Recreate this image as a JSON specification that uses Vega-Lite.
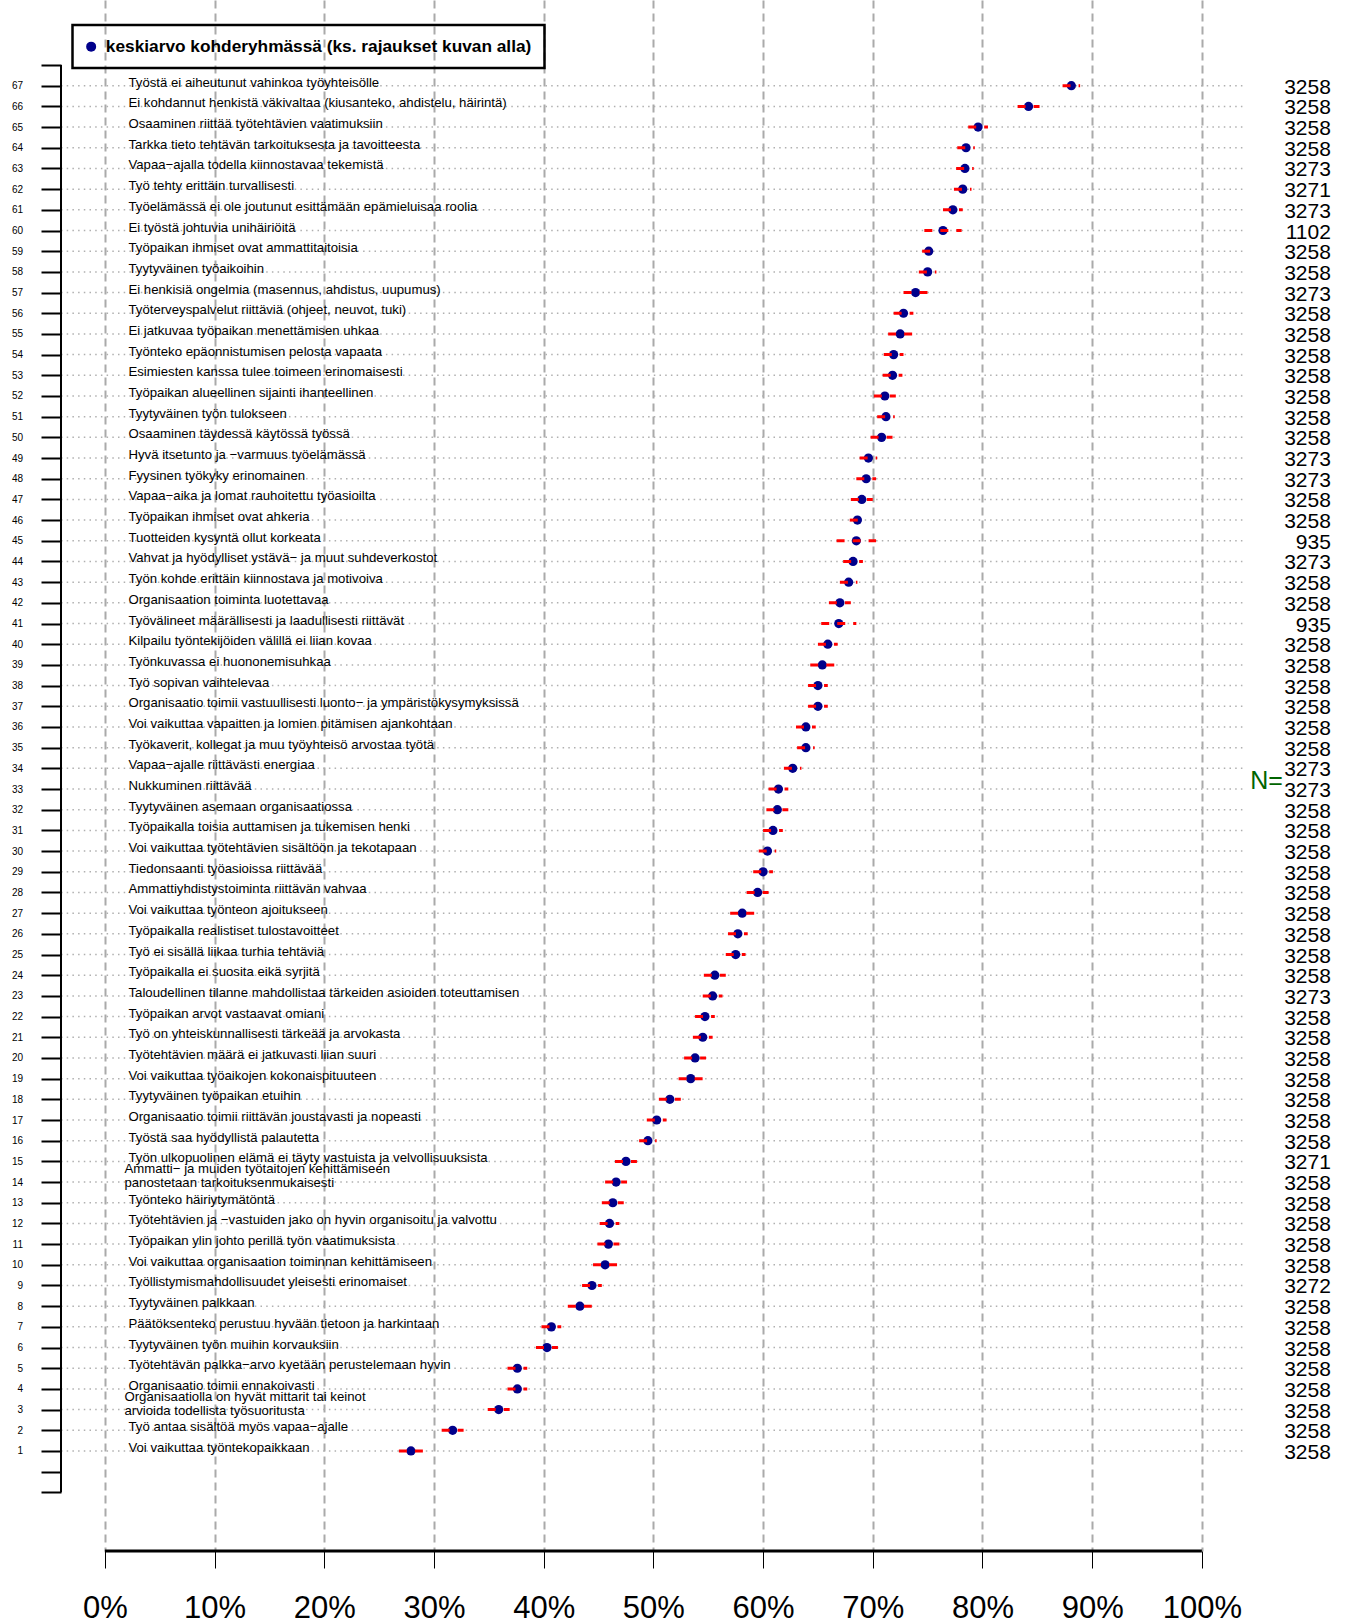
{
  "$schema": "https://vega.github.io/schema/vega-lite/v6.json",
  "width": 1287,
  "height": 1551,
  "autosize": {"type": "none"},
  "padding": {"left": 61, "top": 0, "right": 0, "bottom": 72},
  "background": "white",
  "config": {
    "view": {"stroke": null},
    "font": "Liberation Sans",
    "text": {"font": "Liberation Sans"},
    "legend": {"strokeWidth": 2.5}
  },
  "data": {
    "values": [
      {"r": 67, "label": "Työstä ei aiheutunut vahinkoa työyhteisölle", "m": 88.1, "lo": 87.3, "hi": 88.9, "n": 3258},
      {"r": 66, "label": "Ei kohdannut henkistä väkivaltaa (kiusanteko, ahdistelu, häirintä)", "m": 84.2, "lo": 83.2, "hi": 85.2, "n": 3258},
      {"r": 65, "label": "Osaaminen riittää työtehtävien vaatimuksiin", "m": 79.6, "lo": 78.7, "hi": 80.5, "n": 3258},
      {"r": 64, "label": "Tarkka tieto tehtävän tarkoituksesta ja tavoitteesta", "m": 78.5, "lo": 77.7, "hi": 79.3, "n": 3258},
      {"r": 63, "label": "Vapaa−ajalla todella kiinnostavaa tekemistä", "m": 78.4, "lo": 77.6, "hi": 79.2, "n": 3273},
      {"r": 62, "label": "Työ tehty erittäin turvallisesti", "m": 78.2, "lo": 77.4, "hi": 79.0, "n": 3271},
      {"r": 61, "label": "Työelämässä ei ole joutunut esittämään epämieluisaa roolia", "m": 77.3, "lo": 76.4, "hi": 78.2, "n": 3273},
      {"r": 60, "label": "Ei työstä johtuvia unihäiriöitä", "m": 76.4, "lo": 74.7, "hi": 78.1, "n": 1102},
      {"r": 59, "label": "Työpaikan ihmiset ovat ammattitaitoisia", "m": 75.1, "lo": 74.5, "hi": 75.7, "n": 3258},
      {"r": 58, "label": "Tyytyväinen työaikoihin", "m": 75.0, "lo": 74.2, "hi": 75.8, "n": 3258},
      {"r": 57, "label": "Ei henkisiä ongelmia (masennus, ahdistus, uupumus)", "m": 73.9, "lo": 72.8, "hi": 75.0, "n": 3273},
      {"r": 56, "label": "Työterveyspalvelut riittäviä (ohjeet, neuvot, tuki)", "m": 72.8, "lo": 71.9, "hi": 73.7, "n": 3258},
      {"r": 55, "label": "Ei jatkuvaa työpaikan menettämisen uhkaa", "m": 72.5, "lo": 71.4, "hi": 73.6, "n": 3258},
      {"r": 54, "label": "Työnteko epäonnistumisen pelosta vapaata", "m": 71.9, "lo": 71.0, "hi": 72.8, "n": 3258},
      {"r": 53, "label": "Esimiesten kanssa tulee toimeen erinomaisesti", "m": 71.8, "lo": 70.9, "hi": 72.7, "n": 3258},
      {"r": 52, "label": "Työpaikan alueellinen sijainti ihanteellinen", "m": 71.1, "lo": 70.1, "hi": 72.1, "n": 3258},
      {"r": 51, "label": "Tyytyväinen työn tulokseen", "m": 71.2, "lo": 70.4, "hi": 72.0, "n": 3258},
      {"r": 50, "label": "Osaaminen täydessä käytössä työssä", "m": 70.8, "lo": 69.8, "hi": 71.8, "n": 3258},
      {"r": 49, "label": "Hyvä itsetunto ja −varmuus työelämässä", "m": 69.6, "lo": 68.8, "hi": 70.4, "n": 3273},
      {"r": 48, "label": "Fyysinen työkyky erinomainen", "m": 69.4, "lo": 68.5, "hi": 70.3, "n": 3273},
      {"r": 47, "label": "Vapaa−aika ja lomat rauhoitettu työasioilta", "m": 69.0, "lo": 68.0, "hi": 70.0, "n": 3258},
      {"r": 46, "label": "Työpaikan ihmiset ovat ahkeria", "m": 68.6, "lo": 67.9, "hi": 69.3, "n": 3258},
      {"r": 45, "label": "Tuotteiden kysyntä ollut korkeata", "m": 68.5, "lo": 66.7, "hi": 70.3, "n": 935},
      {"r": 44, "label": "Vahvat ja hyödylliset ystävä− ja muut suhdeverkostot", "m": 68.2, "lo": 67.3, "hi": 69.1, "n": 3273},
      {"r": 43, "label": "Työn kohde erittäin kiinnostava ja motivoiva", "m": 67.8, "lo": 67.0, "hi": 68.6, "n": 3258},
      {"r": 42, "label": "Organisaation toiminta luotettavaa", "m": 67.0, "lo": 66.0, "hi": 68.0, "n": 3258},
      {"r": 41, "label": "Työvälineet määrällisesti ja laadullisesti riittävät", "m": 66.9, "lo": 65.3, "hi": 68.5, "n": 935},
      {"r": 40, "label": "Kilpailu työntekijöiden välillä ei liian kovaa", "m": 65.9, "lo": 65.0, "hi": 66.8, "n": 3258},
      {"r": 39, "label": "Työnkuvassa ei huononemisuhkaa", "m": 65.4, "lo": 64.3, "hi": 66.5, "n": 3258},
      {"r": 38, "label": "Työ sopivan vaihtelevaa", "m": 65.0, "lo": 64.1, "hi": 65.9, "n": 3258},
      {"r": 37, "label": "Organisaatio toimii vastuullisesti luonto− ja ympäristökysymyksissä", "m": 65.0, "lo": 64.1, "hi": 65.9, "n": 3258},
      {"r": 36, "label": "Voi vaikuttaa vapaitten ja lomien pitämisen ajankohtaan", "m": 63.9, "lo": 63.0, "hi": 64.8, "n": 3258},
      {"r": 35, "label": "Työkaverit, kollegat ja muu työyhteisö arvostaa työtä", "m": 63.9, "lo": 63.1, "hi": 64.7, "n": 3258},
      {"r": 34, "label": "Vapaa−ajalle riittävästi energiaa", "m": 62.7, "lo": 61.9, "hi": 63.5, "n": 3273},
      {"r": 33, "label": "Nukkuminen riittävää", "m": 61.4, "lo": 60.5, "hi": 62.3, "n": 3273},
      {"r": 32, "label": "Tyytyväinen asemaan organisaatiossa", "m": 61.3, "lo": 60.3, "hi": 62.3, "n": 3258},
      {"r": 31, "label": "Työpaikalla toisia auttamisen ja tukemisen henki", "m": 60.9, "lo": 60.0, "hi": 61.8, "n": 3258},
      {"r": 30, "label": "Voi vaikuttaa työtehtävien sisältöön ja tekotapaan", "m": 60.4, "lo": 59.6, "hi": 61.2, "n": 3258},
      {"r": 29, "label": "Tiedonsaanti työasioissa riittävää", "m": 60.0, "lo": 59.1, "hi": 60.9, "n": 3258},
      {"r": 28, "label": "Ammattiyhdistystoiminta riittävän vahvaa", "m": 59.5, "lo": 58.5, "hi": 60.5, "n": 3258},
      {"r": 27, "label": "Voi vaikuttaa työnteon ajoitukseen", "m": 58.1, "lo": 57.0, "hi": 59.2, "n": 3258},
      {"r": 26, "label": "Työpaikalla realistiset tulostavoitteet", "m": 57.7, "lo": 56.8, "hi": 58.6, "n": 3258},
      {"r": 25, "label": "Työ ei sisällä liikaa turhia tehtäviä", "m": 57.5, "lo": 56.6, "hi": 58.4, "n": 3258},
      {"r": 24, "label": "Työpaikalla ei suosita eikä syrjitä", "m": 55.6, "lo": 54.6, "hi": 56.6, "n": 3258},
      {"r": 23, "label": "Taloudellinen tilanne mahdollistaa tärkeiden asioiden toteuttamisen", "m": 55.4, "lo": 54.5, "hi": 56.3, "n": 3273},
      {"r": 22, "label": "Työpaikan arvot vastaavat omiani", "m": 54.7, "lo": 53.8, "hi": 55.6, "n": 3258},
      {"r": 21, "label": "Työ on yhteiskunnallisesti tärkeää ja arvokasta", "m": 54.5, "lo": 53.6, "hi": 55.4, "n": 3258},
      {"r": 20, "label": "Työtehtävien määrä ei jatkuvasti liian suuri", "m": 53.8, "lo": 52.8, "hi": 54.8, "n": 3258},
      {"r": 19, "label": "Voi vaikuttaa työaikojen kokonaispituuteen", "m": 53.4, "lo": 52.3, "hi": 54.5, "n": 3258},
      {"r": 18, "label": "Tyytyväinen työpaikan etuihin", "m": 51.5, "lo": 50.5, "hi": 52.5, "n": 3258},
      {"r": 17, "label": "Organisaatio toimii riittävän joustavasti ja nopeasti", "m": 50.3, "lo": 49.4, "hi": 51.2, "n": 3258},
      {"r": 16, "label": "Työstä saa hyödyllistä palautetta", "m": 49.5, "lo": 48.7, "hi": 50.3, "n": 3258},
      {"r": 15, "label": "Työn ulkopuolinen elämä ei täyty vastuista ja velvollisuuksista", "m": 47.5, "lo": 46.5, "hi": 48.5, "n": 3271},
      {"r": 14, "label": ["\u00a0Ammatti− ja muiden työtaitojen kehittämiseen", "panostetaan tarkoituksenmukaisesti"], "m": 46.6, "lo": 45.6, "hi": 47.6, "n": 3258},
      {"r": 13, "label": "Työnteko häiriytymätöntä", "m": 46.3, "lo": 45.3, "hi": 47.3, "n": 3258},
      {"r": 12, "label": "Työtehtävien ja −vastuiden jako on hyvin organisoitu ja valvottu", "m": 46.0, "lo": 45.1, "hi": 46.9, "n": 3258},
      {"r": 11, "label": "Työpaikan ylin johto perillä työn vaatimuksista", "m": 45.9, "lo": 44.9, "hi": 46.9, "n": 3258},
      {"r": 10, "label": "Voi vaikuttaa organisaation toiminnan kehittämiseen", "m": 45.6, "lo": 44.5, "hi": 46.7, "n": 3258},
      {"r": 9, "label": "Työllistymismahdollisuudet yleisesti erinomaiset", "m": 44.4, "lo": 43.5, "hi": 45.3, "n": 3272},
      {"r": 8, "label": "Tyytyväinen palkkaan", "m": 43.3, "lo": 42.2, "hi": 44.4, "n": 3258},
      {"r": 7, "label": "Päätöksenteko perustuu hyvään tietoon ja harkintaan", "m": 40.7, "lo": 39.8, "hi": 41.6, "n": 3258},
      {"r": 6, "label": "Tyytyväinen työn muihin korvauksiin", "m": 40.3, "lo": 39.3, "hi": 41.3, "n": 3258},
      {"r": 5, "label": "Työtehtävän palkka−arvo kyetään perustelemaan hyvin", "m": 37.6, "lo": 36.7, "hi": 38.5, "n": 3258},
      {"r": 4, "label": "Organisaatio toimii ennakoivasti", "m": 37.6, "lo": 36.7, "hi": 38.5, "n": 3258},
      {"r": 3, "label": ["\u00a0Organisaatiolla on hyvät mittarit tai keinot", "arvioida todellista työsuoritusta"], "m": 35.9, "lo": 34.9, "hi": 36.9, "n": 3258},
      {"r": 2, "label": "Työ antaa sisältöä myös vapaa−ajalle", "m": 31.7, "lo": 30.7, "hi": 32.7, "n": 3258},
      {"r": 1, "label": "Voi vaikuttaa työntekopaikkaan", "m": 27.9, "lo": 26.8, "hi": 29.0, "n": 3258}
    ]
  },
  "layer": [
    {
      "mark": {"type": "rule", "color": "#b0b0b0", "strokeWidth": 1.5, "strokeDash": [1.5, 4.2]},
      "encoding": {
        "x": {
          "datum": -4, "type": "quantitative",
          "scale": {"domain": [-4, 113.32], "nice": false, "zero": false},
          "axis": {
            "values": [0, 10, 20, 30, 40, 50, 60, 70, 80, 90, 100],
            "tickCount": 20,
            "labelExpr": "datum.value + '%'",
            "domain": false, "grid": true, "gridDash": [8, 5], "gridColor": "#aaaaaa", "gridWidth": 2, "gridOpacity": 1,
            "ticks": true, "tickSize": 17, "tickWidth": 1, "tickColor": "black",
            "labelFontSize": 31, "labelPadding": 25, "labelColor": "black", "labelFont": "Liberation Sans",
            "labelFlush": false, "labelOverlap": false, "labelBound": false, "title": null
          }
        },
        "x2": {"datum": 104},
        "y": {
          "field": "r", "type": "quantitative",
          "scale": {"domain": [-3.835, 71.143], "nice": false, "zero": false},
          "axis": {
            "values": [-1, 0, 1, 2, 3, 4, 5, 6, 7, 8, 9, 10, 11, 12, 13, 14, 15, 16, 17, 18, 19, 20, 21, 22, 23, 24, 25, 26, 27, 28, 29, 30, 31, 32, 33, 34, 35, 36, 37, 38, 39, 40, 41, 42, 43, 44, 45, 46, 47, 48, 49, 50, 51, 52, 53, 54, 55, 56, 57, 58, 59, 60, 61, 62, 63, 64, 65, 66, 67, 68],
            "tickCount": 200,
            "labelExpr": "datum.value >= 1 && datum.value <= 67 ? datum.value : ''",
            "domain": false, "grid": false,
            "ticks": true, "tickSize": 20, "tickWidth": 2, "tickColor": "black",
            "labelFontSize": 10, "labelPadding": 18.5, "labelColor": "black", "labelFont": "Liberation Sans",
            "labelOverlap": false, "labelBound": false, "labelFlush": false, "title": null
          }
        }
      }
    },
    {
      "mark": {"type": "circle", "size": 85, "opacity": 1},
      "encoding": {
        "x": {"field": "m", "type": "quantitative", "scale": {"domain": [-4, 113.32], "nice": false, "zero": false}, "title": null},
        "y": {"field": "r", "type": "quantitative", "scale": {"domain": [-3.835, 71.143], "nice": false, "zero": false}, "title": null},
        "color": {
          "datum": "keskiarvo kohderyhmässä (ks. rajaukset kuvan alla)",
          "type": "nominal",
          "scale": {"range": ["#00008B"]},
          "legend": {
            "orient": "none", "legendX": 11.5, "legendY": 25,
            "title": null, "padding": 13, "strokeColor": "black",
            "symbolType": "circle", "symbolSize": 100, "symbolStrokeWidth": 0, "symbolOpacity": 1, "symbolOffset": -3,
            "labelFontSize": 17.3, "labelFontWeight": "bold", "labelFont": "Liberation Sans", "labelOffset": 6,
            "labelLimit": 0, "labelColor": "black",
            "encode": {"legend": {"update": {"strokeWidth": {"value": 2.5}}}}
          }
        }
      }
    },
    {
      "mark": {"type": "rule", "color": "#ff0000", "strokeWidth": 3, "strokeDash": [8, 8]},
      "encoding": {
        "x": {"field": "lo", "type": "quantitative", "scale": {"domain": [-4, 113.32], "nice": false, "zero": false}, "title": null},
        "x2": {"field": "hi"},
        "y": {"field": "r", "type": "quantitative", "scale": {"domain": [-3.835, 71.143], "nice": false, "zero": false}, "title": null}
      }
    },
    {
      "transform": [{"filter": "!isArray(datum.label)"}],
      "mark": {"type": "text", "align": "left", "baseline": "alphabetic", "dy": 1, "fontSize": 13.2, "color": "black", "font": "Liberation Sans"},
      "encoding": {
        "x": {"datum": 2.15, "type": "quantitative", "scale": {"domain": [-4, 113.32], "nice": false, "zero": false}},
        "y": {"field": "r", "type": "quantitative", "scale": {"domain": [-3.835, 71.143], "nice": false, "zero": false}, "title": null},
        "text": {"field": "label", "type": "nominal"}
      }
    },
    {
      "transform": [{"filter": "isArray(datum.label)"}],
      "mark": {"type": "text", "align": "left", "baseline": "alphabetic", "dy": -9, "lineHeight": 14, "fontSize": 13.2, "color": "black", "font": "Liberation Sans"},
      "encoding": {
        "x": {"datum": 1.78, "type": "quantitative", "scale": {"domain": [-4, 113.32], "nice": false, "zero": false}},
        "y": {"field": "r", "type": "quantitative", "scale": {"domain": [-3.835, 71.143], "nice": false, "zero": false}, "title": null},
        "text": {"field": "label"}
      }
    },
    {
      "mark": {"type": "text", "align": "right", "baseline": "middle", "dy": 2, "fontSize": 21, "color": "black", "font": "Liberation Sans"},
      "encoding": {
        "x": {"datum": 111.76, "type": "quantitative", "scale": {"domain": [-4, 113.32], "nice": false, "zero": false}},
        "y": {"field": "r", "type": "quantitative", "scale": {"domain": [-3.835, 71.143], "nice": false, "zero": false}, "title": null},
        "text": {"field": "n", "type": "nominal"}
      }
    },
    {
      "data": {"values": [{"t": "N="}]},
      "mark": {"type": "text", "align": "right", "baseline": "middle", "fontSize": 25, "color": "#006400", "font": "Liberation Sans"},
      "encoding": {
        "x": {"datum": 107.38, "type": "quantitative", "scale": {"domain": [-4, 113.32], "nice": false, "zero": false}},
        "y": {"datum": 33.4, "type": "quantitative", "scale": {"domain": [-3.835, 71.143], "nice": false, "zero": false}},
        "text": {"field": "t", "type": "nominal"}
      }
    },
    {
      "data": {"values": [{"a": 1}]},
      "mark": {"type": "rule", "color": "black", "strokeWidth": 2},
      "encoding": {
        "x": {"datum": -4, "type": "quantitative", "scale": {"domain": [-4, 113.32], "nice": false, "zero": false}},
        "y": {"datum": -1, "type": "quantitative", "scale": {"domain": [-3.835, 71.143], "nice": false, "zero": false}},
        "y2": {"datum": 68}
      }
    },
    {
      "data": {"values": [{"a": 1}]},
      "mark": {"type": "rule", "color": "black", "strokeWidth": 3},
      "encoding": {
        "x": {"datum": 0, "type": "quantitative", "scale": {"domain": [-4, 113.32], "nice": false, "zero": false}},
        "x2": {"datum": 100},
        "y": {"datum": -3.835, "type": "quantitative", "scale": {"domain": [-3.835, 71.143], "nice": false, "zero": false}}
      }
    }
  ]
}
